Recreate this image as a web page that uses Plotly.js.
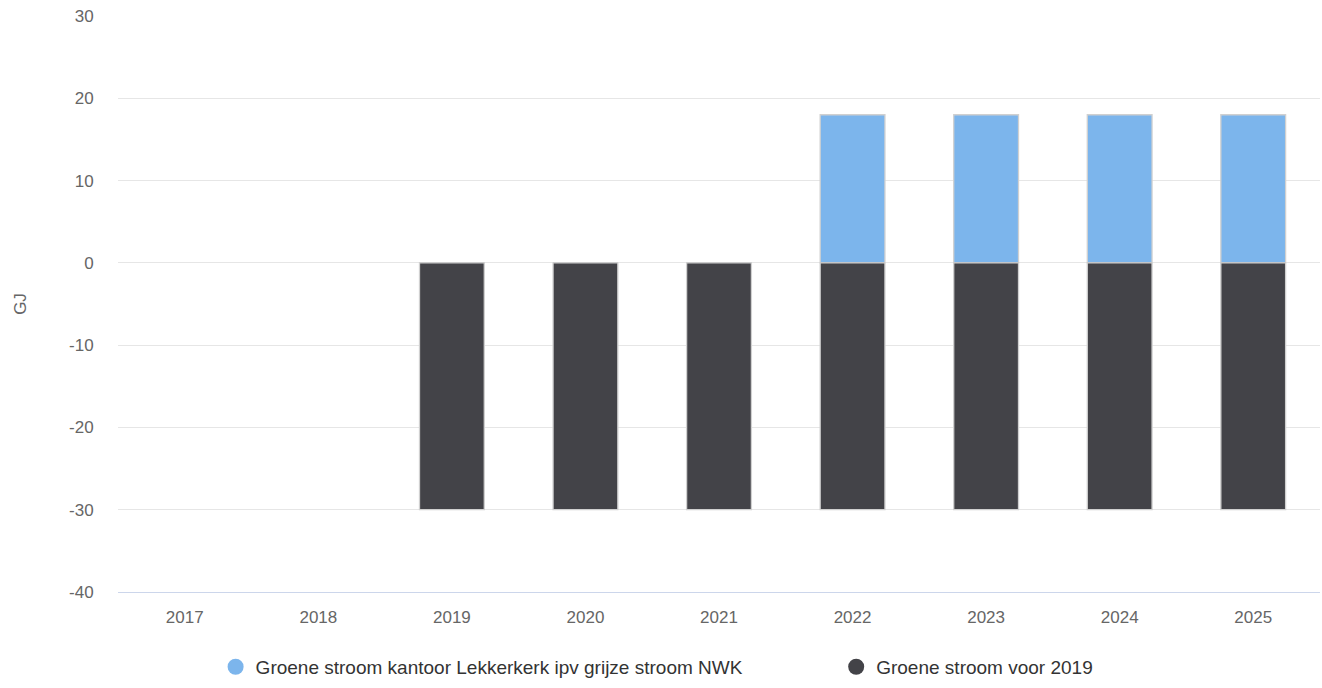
<!DOCTYPE html>
<html>
<head>
<meta charset="utf-8">
<script src="https://cdn.plot.ly/plotly-3.0.1.min.js"></script>
<style>html,body{margin:0;padding:0;background:#fff;}#chart{width:1322px;height:688px;}</style>
</head>
<body>
<div id="chart"></div>
<script>
const years = ["2017","2018","2019","2020","2021","2022","2023","2024","2025"];
const seriesNames = ["Groene stroom kantoor Lekkerkerk ipv grijze stroom NWK", "Groene stroom voor 2019"];
const lekkerkerk = [null, null, null, null, null, 18, 18, 18, 18];
const voor2019 = [null, null, -30, -30, -30, -30, -30, -30, -30];
const yTickVals = [-40, -30, -20, -10, 0, 10, 20, 30];
const yTickText = ["-40", "-30", "-20", "-10", "0", "10", "20", "30"];
const colors = ["#7cb5ec", "#434348"];

const font = "Liberation Sans, Arial, Helvetica, sans-serif";
const barLine = {color: "rgba(208,208,208,1)", width: 1.3};

const traces = [
  {type: "bar", x: years, y: lekkerkerk, name: seriesNames[0], marker: {color: colors[0], line: barLine}, showlegend: false, hoverinfo: "skip"},
  {type: "bar", x: years, y: voor2019, name: seriesNames[1], marker: {color: colors[1], line: barLine}, showlegend: false, hoverinfo: "skip"},
  {type: "scatter", mode: "markers", x: [null], y: [null], name: seriesNames[0], marker: {color: colors[0], size: 18, symbol: "circle"}, showlegend: true, legend: "legend"},
  {type: "scatter", mode: "markers", x: [null], y: [null], name: seriesNames[1], marker: {color: colors[1], size: 18, symbol: "circle"}, showlegend: true, legend: "legend2"}
];

const legendBase = {
  orientation: "h",
  xanchor: "left",
  y: -0.13, yanchor: "middle",
  font: {family: font, size: 19, color: "#333333"},
  itemsizing: "trace",
  bgcolor: "rgba(0,0,0,0)"
};

const layout = {
  width: 1322, height: 688,
  margin: {l: 118, r: 2, t: 16, b: 94},
  paper_bgcolor: "#fff", plot_bgcolor: "#fff",
  barmode: "relative",
  bargap: 0.515,
  font: {family: font, color: "#666666", size: 17},
  hovermode: false,
  xaxis: {
    type: "category",
    showgrid: false, zeroline: false,
    showline: true, linecolor: "#ccd6eb", linewidth: 1,
    ticks: "outside", ticklen: 10, tickcolor: "rgba(0,0,0,0)",
    tickangle: 0,
    tickfont: {family: font, size: 17, color: "#666666"},
    fixedrange: true
  },
  yaxis: {
    range: [-40, 30],
    tickmode: "array", tickvals: yTickVals, ticktext: yTickText,
    showgrid: true, gridcolor: "#e6e6e6", gridwidth: 1,
    zeroline: false, showline: false,
    ticks: "outside", ticklen: 20, tickcolor: "rgba(0,0,0,0)",
    tickfont: {family: font, size: 17, color: "#666666"},
    title: {text: "GJ", font: {family: font, size: 17, color: "#666666"}, standoff: 38},
    fixedrange: true
  },
  showlegend: true,
  legend: Object.assign({}, legendBase, {x: 0.0812}),
  legend2: Object.assign({}, legendBase, {x: 0.5975})
};

Plotly.newPlot("chart", traces, layout, {displayModeBar: false, staticPlot: true});
</script>
</body>
</html>
